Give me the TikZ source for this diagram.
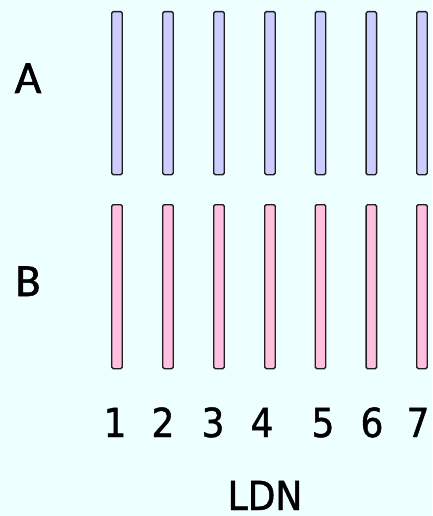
\documentclass[tikz,border=0pt]{standalone}
\usepackage{fontspec}
\newfontfamily\labelfont[FakeBold=1.2]{Carlito}
\newfontfamily\numfont[FakeBold=1.2]{DejaVu Sans Condensed}
\definecolor{bg}{RGB}{238,255,255}
\definecolor{barA}{RGB}{204,204,255}
\definecolor{barB}{RGB}{255,192,224}
\definecolor{edge}{RGB}{30,30,30}
\tikzset{
  bar/.style={draw=edge, line width=1.4pt, rounded corners=1.5pt, minimum width=10.5pt, inner sep=0pt, anchor=north},
  rowlabel/.style={font=\labelfont\fontsize{46}{46}\selectfont, inner sep=0pt, anchor=base},
  numlabel/.style={font=\numfont\fontsize{40}{40}\selectfont, inner sep=0pt, anchor=base},
}
\begin{document}
\begin{tikzpicture}[x=1pt,y=-1pt]
  \fill[bg] (0,0) rectangle (432,516);
  \useasboundingbox (0,0) rectangle (432,516);
  \foreach \i/\x in {1/117,2/168,3/219,4/270,5/320.5,6/371.3,7/422}{
    \node[bar, fill=barA, minimum height=163pt] (a\i) at (\x,11) {};
    \node[bar, fill=barB, minimum height=164pt] (b\i) at (\x,204) {};
  }
  \node[rowlabel] (la) at (28,93) {A};
  \node[rowlabel] (lb) at (28,296) {B};
  \foreach \i/\x in {1/115,2/163,3/213,4/262,5/323,6/372,7/418}{
    \node[numlabel] (n\i) at (\x,437) {\i};
  }
  \node[numlabel] (ldn) at (265,510) {LDN};
\end{tikzpicture}
\end{document}
